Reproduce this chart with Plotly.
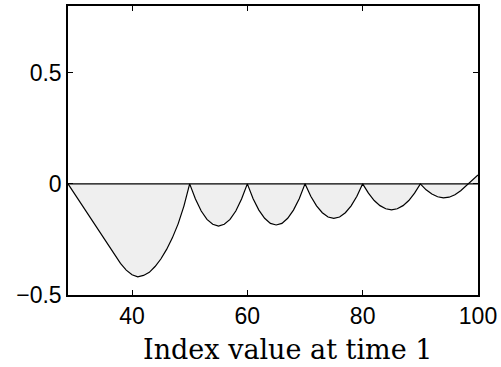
import plotly.graph_objects as go

# Hedging error curve
x_vals = [28.9, 30, 31, 32, 33, 34, 35, 36, 37, 38, 39, 40, 41, 42, 43, 44, 45, 46, 47, 48, 49, 50,
          51, 52, 53, 54, 55, 56, 57, 58, 59, 60,
          61, 62, 63, 64, 65, 66, 67, 68, 69, 70,
          71, 72, 73, 74, 75, 76, 77, 78, 79, 80,
          81, 82, 83, 84, 85, 86, 87, 88, 89, 90,
          91, 92, 93, 94, 95, 96, 97, 98, 99, 100]
y_vals = [0.0, -0.044, -0.083, -0.122, -0.161, -0.200, -0.240, -0.282, -0.322, -0.358, -0.388, -0.409, -0.418, -0.412, -0.398, -0.372, -0.338, -0.295, -0.243, -0.180, -0.100, 0.0,
          -0.068, -0.122, -0.160, -0.182, -0.190, -0.182, -0.160, -0.122, -0.068, 0.0,
          -0.067, -0.118, -0.155, -0.178, -0.185, -0.178, -0.155, -0.118, -0.067, 0.0,
          -0.056, -0.099, -0.130, -0.149, -0.155, -0.149, -0.130, -0.099, -0.056, 0.0,
          -0.042, -0.075, -0.098, -0.112, -0.117, -0.112, -0.098, -0.075, -0.042, 0.0,
          -0.027, -0.046, -0.058, -0.063, -0.060, -0.049, -0.031, -0.006, 0.018, 0.040]

x_ticks = [40, 60, 80, 100]
y_ticks = [-0.5, 0, 0.5]
y_tick_text = ["\u22120.5", "0", "0.5"]
x_title = "Index value at time 1"

fig = go.Figure()
fig.add_trace(go.Scatter(
    x=x_vals, y=y_vals, mode="lines", fill="tozeroy",
    fillcolor="#efefef", line=dict(color="black", width=1.2),
    showlegend=False, hoverinfo="skip"))

fig.add_shape(type="line", xref="x", yref="y", x0=28.9, x1=100, y0=0, y1=0,
              line=dict(color="black", width=1.2), layer="above")

axis_common = dict(showgrid=False, zeroline=False, showline=True, linecolor="black",
                   linewidth=1.5, mirror="ticks", ticks="inside", ticklen=5,
                   tickcolor="black", tickwidth=1,
                   tickfont=dict(family="Liberation Sans, Arial", size=23, color="black"))

fig.update_xaxes(range=[28.9, 100], tickvals=x_ticks, ticktext=[str(v) for v in x_ticks],
                 **axis_common)
fig.update_yaxes(range=[-0.5, 0.8], tickvals=y_ticks, ticktext=y_tick_text, **axis_common)

fig.add_annotation(text=x_title, xref="paper", yref="paper", x=0.535, y=0,
                   xanchor="center", yanchor="middle", yshift=-54, showarrow=False,
                   font=dict(family="DejaVu Serif", size=27, color="black"))

fig.update_layout(width=501, height=367, margin=dict(l=68, r=23, t=4, b=72),
                  plot_bgcolor="white", paper_bgcolor="white")

fig.write_html("out.html")
